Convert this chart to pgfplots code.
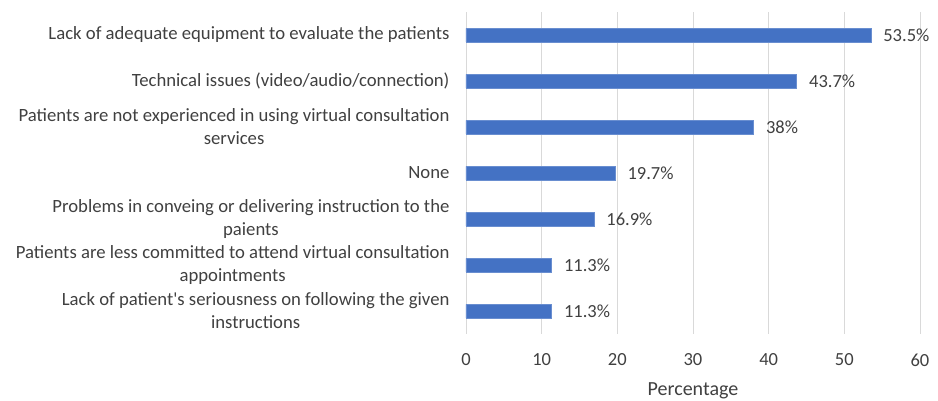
\documentclass[border=0pt]{standalone}
\usepackage{pgfplots}
\pgfplotsset{compat=1.18}
\usepackage{fontspec}
\setmainfont{Carlito}[Ligatures=TeXOff]
\definecolor{barblue}{HTML}{4472C4}
\definecolor{txt}{HTML}{404040}
\definecolor{gridc}{HTML}{D9D9D9}
\begin{document}
\begin{tikzpicture}
\path[use as bounding box] (-466bp,-67bp) rectangle (472bp,334bp);
\begin{axis}[
  at={(0,0)}, anchor=south west,
  scale only axis, width=454bp, height=322bp,
  xbar, bar width=13.5bp,
  xmin=0, xmax=60, xtick={0,10,...,60},
  ymin=-0.5, ymax=6.5, y dir=reverse,
  ytick={0,...,6},
  yticklabels={
    {Lack of adequate equipment to evaluate the patients},
    {Technical issues (video/audio/connection)},
    {Patients are not experienced in using virtual consultation\\services},
    {None},
    {Problems in conveing or delivering instruction to the\\paients},
    {Patients are less committed to attend virtual consultation\\appointments},
    {Lack of patient's seriousness on following the given\\instructions}},
  yticklabel style={align=center, font=\fontsize{18.7bp}{23bp}\selectfont, text=txt, xshift=-13bp},
  xticklabel style={font=\fontsize{18.5bp}{22bp}\selectfont, text=txt, yshift=-16bp},
  /pgf/number format/assume math mode=true,
  major tick length=0pt,
  axis line style={draw=none},
  xmajorgrids, grid style={gridc, line width=0.8pt},
  xlabel={Percentage},
  xlabel style={font=\fontsize{20bp}{22bp}\selectfont, text=txt, yshift=-10bp},
  nodes near coords={\pgfmathprintnumber{\pgfplotspointmeta}\%},
  nodes near coords style={font=\fontsize{18.5bp}{22bp}\selectfont, text=txt, xshift=9bp},
  point meta=x,
]
\addplot[fill=barblue, draw=barblue!80!white] coordinates {
  (53.5,0) (43.7,1) (38,2) (19.7,3) (16.9,4) (11.3,5) (11.3,6)};
\end{axis}
\end{tikzpicture}
\end{document}
